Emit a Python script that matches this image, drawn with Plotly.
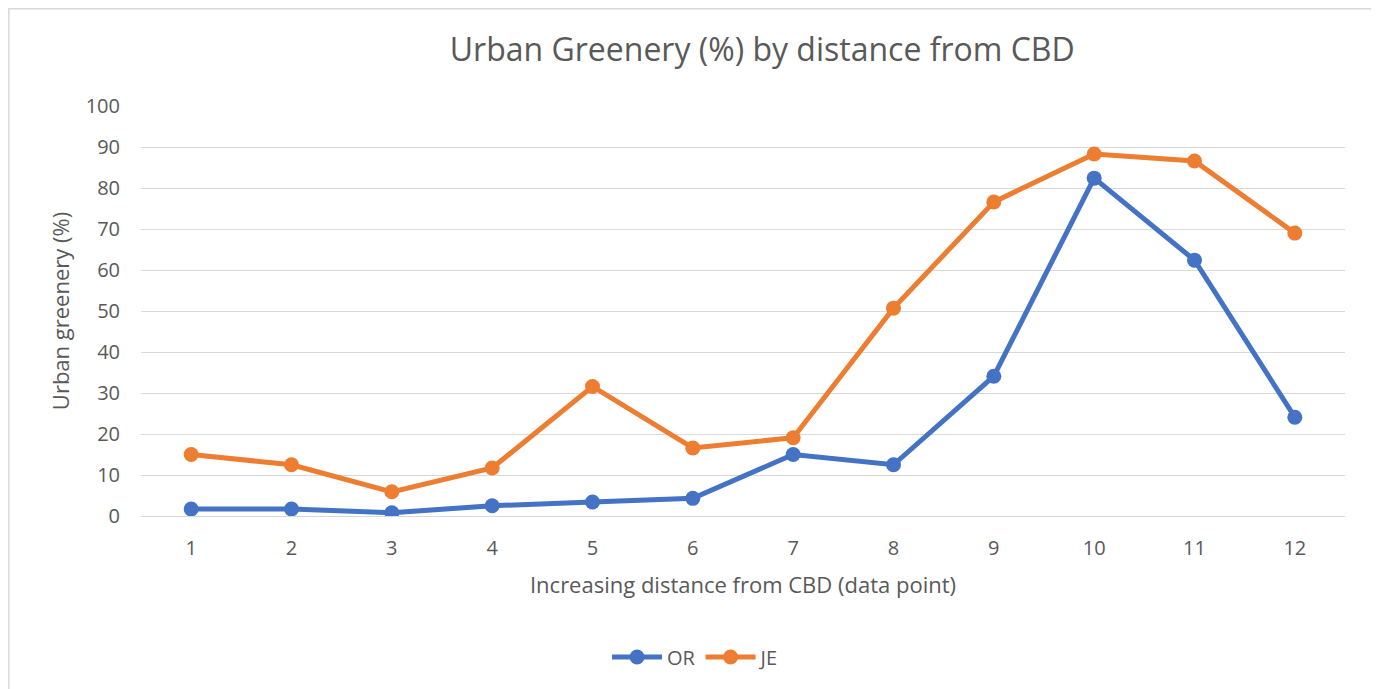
import plotly.graph_objects as go

categories = [str(i) for i in range(1, 13)]
or_values = [1.7, 1.7, 0.8, 2.5, 3.4, 4.3, 15.0, 12.5, 34.1, 82.4, 62.4, 24.1]
je_values = [15.0, 12.5, 5.9, 11.7, 31.6, 16.6, 19.1, 50.7, 76.6, 88.3, 86.6, 69.0]
y_ticks = list(range(0, 101, 10))

FONT = "Open Sans"
GRAY = "#595959"
W, H = 1366, 681
L, T = 133, 98
PW, PH = 1204, 410

fig = go.Figure()
fig.add_trace(go.Scatter(x=categories, y=or_values, name="OR", mode="lines+markers",
                         line=dict(color="#4472C4", width=5),
                         marker=dict(size=15, color="#4472C4")))
fig.add_trace(go.Scatter(x=categories, y=je_values, name="JE", mode="lines+markers",
                         line=dict(color="#ED7D31", width=5),
                         marker=dict(size=15, color="#ED7D31")))

fig.update_layout(
    width=W, height=H,
    margin=dict(l=L, r=W - L - PW, t=T, b=H - T - PH, pad=0),
    paper_bgcolor="white", plot_bgcolor="white",
    font=dict(family=FONT, color=GRAY, size=20),
    title=dict(text="Urban Greenery (%) by distance from CBD", x=0.516, xref="paper",
               xanchor="center", y=1 - 42 / H, yanchor="middle",
               font=dict(size=32, color=GRAY, family=FONT)),
    xaxis=dict(type="category", range=[-0.5, 11.5], showgrid=False, showline=False,
               ticks="", tickfont=dict(size=20, color=GRAY), ticklabelstandoff=18,
               title=dict(text="Increasing distance from CBD (data point)",
                          font=dict(size=22, color=GRAY), standoff=17)),
    yaxis=dict(range=[0, 100], tickvals=y_ticks, showgrid=True, gridcolor="#D9D9D9",
               gridwidth=1.3, zeroline=True, zerolinecolor="#D9D9D9", zerolinewidth=1.3,
               showline=False, ticks="", ticklabelstandoff=20,
               tickfont=dict(size=20, color=GRAY),
               title=dict(text="Urban greenery (%)", font=dict(size=22, color=GRAY), standoff=9)),
    legend=dict(orientation="h", x=0.461, xanchor="center", y=(T + PH - 649) / PH, yanchor="middle",
                font=dict(size=20, color=GRAY), itemwidth=50),
    showlegend=True,
)

fig.add_shape(type="rect", xref="paper", yref="paper",
              x0=(-L + 0.8) / PW, x1=(W - L - 0.8) / PW,
              y0=(T + PH - H - 10) / PH, y1=(T + PH - 0.8) / PH,
              line=dict(color="#D9D9D9", width=1.5), fillcolor="rgba(0,0,0,0)", layer="below")

fig.write_html("out.html")
